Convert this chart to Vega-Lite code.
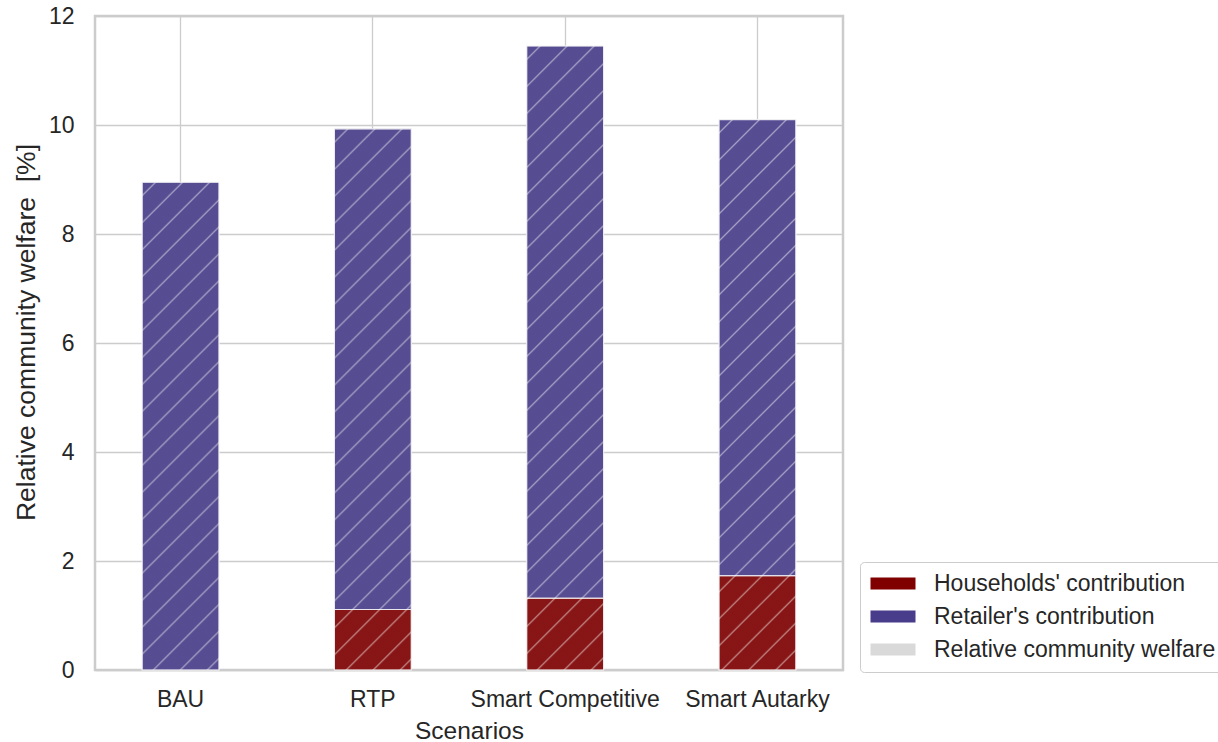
{
  "$schema": "https://vega.github.io/schema/vega-lite/v6.json",
  "autosize": {"type": "none"},
  "padding": {"left": 95, "top": 16, "right": 375, "bottom": 72},
  "width": 748,
  "height": 654,
  "background": "white",
  "config": {
    "font": "Liberation Sans",
    "view": {"stroke": "#cccccc", "strokeWidth": 2.5},
    "axis": {"gridColor": "#cccccc", "gridWidth": 1.3, "gridOpacity": 1, "domain": false, "ticks": false, "labelColor": "#262626", "titleColor": "#262626", "labelFontSize": 23, "titleFontSize": 24.5, "titleFontWeight": "normal", "labelLimit": 0},
    "legend": {"labelFontSize": 23, "labelColor": "#262626", "labelLimit": 0}
  },
  "datasets": {
    "parts": [
      {"Scenario": "RTP", "Component": "Households' contribution", "value": 1.11},
      {"Scenario": "Smart Competitive", "Component": "Households' contribution", "value": 1.32},
      {"Scenario": "Smart Autarky", "Component": "Households' contribution", "value": 1.73},
      {"Scenario": "BAU", "Component": "Retailer's contribution", "value": 8.95},
      {"Scenario": "RTP", "Component": "Retailer's contribution", "value": 8.82},
      {"Scenario": "Smart Competitive", "Component": "Retailer's contribution", "value": 10.13},
      {"Scenario": "Smart Autarky", "Component": "Retailer's contribution", "value": 8.37}
    ],
    "totals": [
      {"Scenario": "BAU", "value": 8.95},
      {"Scenario": "RTP", "value": 9.93},
      {"Scenario": "Smart Competitive", "value": 11.45},
      {"Scenario": "Smart Autarky", "value": 10.10}
    ]
  },
  "encoding": {
    "x": {"field": "Scenario", "type": "nominal", "sort": ["BAU", "RTP", "Smart Competitive", "Smart Autarky"],
      "scale": {"paddingInner": 0.6, "paddingOuter": 0.245},
      "axis": {"title": "Scenarios", "labelAngle": 0, "labelPadding": 18, "titlePadding": 8, "grid": true}},
    "y": {"field": "value", "type": "quantitative",
      "scale": {"domain": [0, 12], "nice": false, "zero": true},
      "axis": {"title": "Relative community welfare\u00a0 [%]", "titleFontSize": 26.5, "titleY": 316, "values": [0, 2, 4, 6, 8, 10, 12], "labelPadding": 21, "titlePadding": 8, "grid": true}}
  },
  "layer": [
    {
      "data": {"name": "parts"},
      "mark": {"type": "bar", "stroke": "white", "strokeWidth": 1.2, "strokeOpacity": 0.8},
      "encoding": {
        "color": {"field": "Component", "type": "nominal",
          "scale": {"domain": ["Households' contribution", "Retailer's contribution", "Relative community welfare"], "range": ["#800000", "#483d8b", "#d9d9d9"]},
          "legend": {"orient": "none", "legendX": 765, "legendY": 546, "title": null, "symbolType": "M-1.833,-1H5.667V1H-1.833Z", "symbolSize": 144, "symbolStrokeWidth": 0, "symbolOpacity": 1, "labelOffset": 41, "rowPadding": 9, "padding": 10, "strokeColor": "#cccccc", "cornerRadius": 4, "fillColor": "white"}},
        "order": {"field": "Component", "sort": "ascending"}
      }
    },
    {
      "data": {"name": "totals"},
      "transform": [{"filter": "datum.Scenario == 'BAU'"}],
      "mark": {"type": "bar", "stroke": "#eeeeee", "strokeWidth": 1, "strokeOpacity": 0.6,
        "fill": {"gradient": "linear", "x1": 0, "y1": 0, "x2": 0.2209, "y2": 1.4028, "stops": [
{"offset":0,"color":"rgba(211,211,211,0.1)"},
{"offset":0.0163,"color":"rgba(211,211,211,0.1)"},{"offset":0.0192,"color":"rgba(255,255,255,0.5)"},{"offset":0.0221,"color":"rgba(211,211,211,0.1)"},
{"offset":0.0548,"color":"rgba(211,211,211,0.1)"},{"offset":0.0577,"color":"rgba(255,255,255,0.5)"},{"offset":0.0606,"color":"rgba(211,211,211,0.1)"},
{"offset":0.0933,"color":"rgba(211,211,211,0.1)"},{"offset":0.0962,"color":"rgba(255,255,255,0.5)"},{"offset":0.0991,"color":"rgba(211,211,211,0.1)"},
{"offset":0.1317,"color":"rgba(211,211,211,0.1)"},{"offset":0.1346,"color":"rgba(255,255,255,0.5)"},{"offset":0.1375,"color":"rgba(211,211,211,0.1)"},
{"offset":0.1702,"color":"rgba(211,211,211,0.1)"},{"offset":0.1731,"color":"rgba(255,255,255,0.5)"},{"offset":0.1760,"color":"rgba(211,211,211,0.1)"},
{"offset":0.2086,"color":"rgba(211,211,211,0.1)"},{"offset":0.2115,"color":"rgba(255,255,255,0.5)"},{"offset":0.2144,"color":"rgba(211,211,211,0.1)"},
{"offset":0.2471,"color":"rgba(211,211,211,0.1)"},{"offset":0.2500,"color":"rgba(255,255,255,0.5)"},{"offset":0.2529,"color":"rgba(211,211,211,0.1)"},
{"offset":0.2856,"color":"rgba(211,211,211,0.1)"},{"offset":0.2885,"color":"rgba(255,255,255,0.5)"},{"offset":0.2914,"color":"rgba(211,211,211,0.1)"},
{"offset":0.3240,"color":"rgba(211,211,211,0.1)"},{"offset":0.3269,"color":"rgba(255,255,255,0.5)"},{"offset":0.3298,"color":"rgba(211,211,211,0.1)"},
{"offset":0.3625,"color":"rgba(211,211,211,0.1)"},{"offset":0.3654,"color":"rgba(255,255,255,0.5)"},{"offset":0.3683,"color":"rgba(211,211,211,0.1)"},
{"offset":0.4009,"color":"rgba(211,211,211,0.1)"},{"offset":0.4038,"color":"rgba(255,255,255,0.5)"},{"offset":0.4067,"color":"rgba(211,211,211,0.1)"},
{"offset":0.4394,"color":"rgba(211,211,211,0.1)"},{"offset":0.4423,"color":"rgba(255,255,255,0.5)"},{"offset":0.4452,"color":"rgba(211,211,211,0.1)"},
{"offset":0.4779,"color":"rgba(211,211,211,0.1)"},{"offset":0.4808,"color":"rgba(255,255,255,0.5)"},{"offset":0.4837,"color":"rgba(211,211,211,0.1)"},
{"offset":0.5163,"color":"rgba(211,211,211,0.1)"},{"offset":0.5192,"color":"rgba(255,255,255,0.5)"},{"offset":0.5221,"color":"rgba(211,211,211,0.1)"},
{"offset":0.5548,"color":"rgba(211,211,211,0.1)"},{"offset":0.5577,"color":"rgba(255,255,255,0.5)"},{"offset":0.5606,"color":"rgba(211,211,211,0.1)"},
{"offset":0.5933,"color":"rgba(211,211,211,0.1)"},{"offset":0.5962,"color":"rgba(255,255,255,0.5)"},{"offset":0.5991,"color":"rgba(211,211,211,0.1)"},
{"offset":0.6317,"color":"rgba(211,211,211,0.1)"},{"offset":0.6346,"color":"rgba(255,255,255,0.5)"},{"offset":0.6375,"color":"rgba(211,211,211,0.1)"},
{"offset":0.6702,"color":"rgba(211,211,211,0.1)"},{"offset":0.6731,"color":"rgba(255,255,255,0.5)"},{"offset":0.6760,"color":"rgba(211,211,211,0.1)"},
{"offset":0.7086,"color":"rgba(211,211,211,0.1)"},{"offset":0.7115,"color":"rgba(255,255,255,0.5)"},{"offset":0.7144,"color":"rgba(211,211,211,0.1)"},
{"offset":0.7471,"color":"rgba(211,211,211,0.1)"},{"offset":0.7500,"color":"rgba(255,255,255,0.5)"},{"offset":0.7529,"color":"rgba(211,211,211,0.1)"},
{"offset":0.7856,"color":"rgba(211,211,211,0.1)"},{"offset":0.7885,"color":"rgba(255,255,255,0.5)"},{"offset":0.7914,"color":"rgba(211,211,211,0.1)"},
{"offset":0.8240,"color":"rgba(211,211,211,0.1)"},{"offset":0.8269,"color":"rgba(255,255,255,0.5)"},{"offset":0.8298,"color":"rgba(211,211,211,0.1)"},
{"offset":0.8625,"color":"rgba(211,211,211,0.1)"},{"offset":0.8654,"color":"rgba(255,255,255,0.5)"},{"offset":0.8683,"color":"rgba(211,211,211,0.1)"},
{"offset":0.9009,"color":"rgba(211,211,211,0.1)"},{"offset":0.9038,"color":"rgba(255,255,255,0.5)"},{"offset":0.9067,"color":"rgba(211,211,211,0.1)"},
{"offset":0.9394,"color":"rgba(211,211,211,0.1)"},{"offset":0.9423,"color":"rgba(255,255,255,0.5)"},{"offset":0.9452,"color":"rgba(211,211,211,0.1)"},
{"offset":0.9779,"color":"rgba(211,211,211,0.1)"},{"offset":0.9808,"color":"rgba(255,255,255,0.5)"},{"offset":0.9837,"color":"rgba(211,211,211,0.1)"},
{"offset":1,"color":"rgba(211,211,211,0.1)"}
        ]}}
    },
    {
      "data": {"name": "totals"},
      "transform": [{"filter": "datum.Scenario == 'RTP'"}],
      "mark": {"type": "bar", "stroke": "#eeeeee", "strokeWidth": 1, "strokeOpacity": 0.6,
        "fill": {"gradient": "linear", "x1": 0, "y1": 0, "x2": 0.1803, "y2": 1.2703, "stops": [
{"offset":0,"color":"rgba(211,211,211,0.1)"},
{"offset":0.0163,"color":"rgba(211,211,211,0.1)"},{"offset":0.0192,"color":"rgba(255,255,255,0.5)"},{"offset":0.0221,"color":"rgba(211,211,211,0.1)"},
{"offset":0.0548,"color":"rgba(211,211,211,0.1)"},{"offset":0.0577,"color":"rgba(255,255,255,0.5)"},{"offset":0.0606,"color":"rgba(211,211,211,0.1)"},
{"offset":0.0933,"color":"rgba(211,211,211,0.1)"},{"offset":0.0962,"color":"rgba(255,255,255,0.5)"},{"offset":0.0991,"color":"rgba(211,211,211,0.1)"},
{"offset":0.1317,"color":"rgba(211,211,211,0.1)"},{"offset":0.1346,"color":"rgba(255,255,255,0.5)"},{"offset":0.1375,"color":"rgba(211,211,211,0.1)"},
{"offset":0.1702,"color":"rgba(211,211,211,0.1)"},{"offset":0.1731,"color":"rgba(255,255,255,0.5)"},{"offset":0.1760,"color":"rgba(211,211,211,0.1)"},
{"offset":0.2086,"color":"rgba(211,211,211,0.1)"},{"offset":0.2115,"color":"rgba(255,255,255,0.5)"},{"offset":0.2144,"color":"rgba(211,211,211,0.1)"},
{"offset":0.2471,"color":"rgba(211,211,211,0.1)"},{"offset":0.2500,"color":"rgba(255,255,255,0.5)"},{"offset":0.2529,"color":"rgba(211,211,211,0.1)"},
{"offset":0.2856,"color":"rgba(211,211,211,0.1)"},{"offset":0.2885,"color":"rgba(255,255,255,0.5)"},{"offset":0.2914,"color":"rgba(211,211,211,0.1)"},
{"offset":0.3240,"color":"rgba(211,211,211,0.1)"},{"offset":0.3269,"color":"rgba(255,255,255,0.5)"},{"offset":0.3298,"color":"rgba(211,211,211,0.1)"},
{"offset":0.3625,"color":"rgba(211,211,211,0.1)"},{"offset":0.3654,"color":"rgba(255,255,255,0.5)"},{"offset":0.3683,"color":"rgba(211,211,211,0.1)"},
{"offset":0.4009,"color":"rgba(211,211,211,0.1)"},{"offset":0.4038,"color":"rgba(255,255,255,0.5)"},{"offset":0.4067,"color":"rgba(211,211,211,0.1)"},
{"offset":0.4394,"color":"rgba(211,211,211,0.1)"},{"offset":0.4423,"color":"rgba(255,255,255,0.5)"},{"offset":0.4452,"color":"rgba(211,211,211,0.1)"},
{"offset":0.4779,"color":"rgba(211,211,211,0.1)"},{"offset":0.4808,"color":"rgba(255,255,255,0.5)"},{"offset":0.4837,"color":"rgba(211,211,211,0.1)"},
{"offset":0.5163,"color":"rgba(211,211,211,0.1)"},{"offset":0.5192,"color":"rgba(255,255,255,0.5)"},{"offset":0.5221,"color":"rgba(211,211,211,0.1)"},
{"offset":0.5548,"color":"rgba(211,211,211,0.1)"},{"offset":0.5577,"color":"rgba(255,255,255,0.5)"},{"offset":0.5606,"color":"rgba(211,211,211,0.1)"},
{"offset":0.5933,"color":"rgba(211,211,211,0.1)"},{"offset":0.5962,"color":"rgba(255,255,255,0.5)"},{"offset":0.5991,"color":"rgba(211,211,211,0.1)"},
{"offset":0.6317,"color":"rgba(211,211,211,0.1)"},{"offset":0.6346,"color":"rgba(255,255,255,0.5)"},{"offset":0.6375,"color":"rgba(211,211,211,0.1)"},
{"offset":0.6702,"color":"rgba(211,211,211,0.1)"},{"offset":0.6731,"color":"rgba(255,255,255,0.5)"},{"offset":0.6760,"color":"rgba(211,211,211,0.1)"},
{"offset":0.7086,"color":"rgba(211,211,211,0.1)"},{"offset":0.7115,"color":"rgba(255,255,255,0.5)"},{"offset":0.7144,"color":"rgba(211,211,211,0.1)"},
{"offset":0.7471,"color":"rgba(211,211,211,0.1)"},{"offset":0.7500,"color":"rgba(255,255,255,0.5)"},{"offset":0.7529,"color":"rgba(211,211,211,0.1)"},
{"offset":0.7856,"color":"rgba(211,211,211,0.1)"},{"offset":0.7885,"color":"rgba(255,255,255,0.5)"},{"offset":0.7914,"color":"rgba(211,211,211,0.1)"},
{"offset":0.8240,"color":"rgba(211,211,211,0.1)"},{"offset":0.8269,"color":"rgba(255,255,255,0.5)"},{"offset":0.8298,"color":"rgba(211,211,211,0.1)"},
{"offset":0.8625,"color":"rgba(211,211,211,0.1)"},{"offset":0.8654,"color":"rgba(255,255,255,0.5)"},{"offset":0.8683,"color":"rgba(211,211,211,0.1)"},
{"offset":0.9009,"color":"rgba(211,211,211,0.1)"},{"offset":0.9038,"color":"rgba(255,255,255,0.5)"},{"offset":0.9067,"color":"rgba(211,211,211,0.1)"},
{"offset":0.9394,"color":"rgba(211,211,211,0.1)"},{"offset":0.9423,"color":"rgba(255,255,255,0.5)"},{"offset":0.9452,"color":"rgba(211,211,211,0.1)"},
{"offset":0.9779,"color":"rgba(211,211,211,0.1)"},{"offset":0.9808,"color":"rgba(255,255,255,0.5)"},{"offset":0.9837,"color":"rgba(211,211,211,0.1)"},
{"offset":1,"color":"rgba(211,211,211,0.1)"}
        ]}}
    },
    {
      "data": {"name": "totals"},
      "transform": [{"filter": "datum.Scenario == 'Smart Competitive'"}],
      "mark": {"type": "bar", "stroke": "#eeeeee", "strokeWidth": 1, "strokeOpacity": 0.6,
        "fill": {"gradient": "linear", "x1": 0, "y1": 0, "x2": 0.1366, "y2": 1.1082, "stops": [
{"offset":0,"color":"rgba(211,211,211,0.1)"},
{"offset":0.0163,"color":"rgba(211,211,211,0.1)"},{"offset":0.0192,"color":"rgba(255,255,255,0.5)"},{"offset":0.0221,"color":"rgba(211,211,211,0.1)"},
{"offset":0.0548,"color":"rgba(211,211,211,0.1)"},{"offset":0.0577,"color":"rgba(255,255,255,0.5)"},{"offset":0.0606,"color":"rgba(211,211,211,0.1)"},
{"offset":0.0933,"color":"rgba(211,211,211,0.1)"},{"offset":0.0962,"color":"rgba(255,255,255,0.5)"},{"offset":0.0991,"color":"rgba(211,211,211,0.1)"},
{"offset":0.1317,"color":"rgba(211,211,211,0.1)"},{"offset":0.1346,"color":"rgba(255,255,255,0.5)"},{"offset":0.1375,"color":"rgba(211,211,211,0.1)"},
{"offset":0.1702,"color":"rgba(211,211,211,0.1)"},{"offset":0.1731,"color":"rgba(255,255,255,0.5)"},{"offset":0.1760,"color":"rgba(211,211,211,0.1)"},
{"offset":0.2086,"color":"rgba(211,211,211,0.1)"},{"offset":0.2115,"color":"rgba(255,255,255,0.5)"},{"offset":0.2144,"color":"rgba(211,211,211,0.1)"},
{"offset":0.2471,"color":"rgba(211,211,211,0.1)"},{"offset":0.2500,"color":"rgba(255,255,255,0.5)"},{"offset":0.2529,"color":"rgba(211,211,211,0.1)"},
{"offset":0.2856,"color":"rgba(211,211,211,0.1)"},{"offset":0.2885,"color":"rgba(255,255,255,0.5)"},{"offset":0.2914,"color":"rgba(211,211,211,0.1)"},
{"offset":0.3240,"color":"rgba(211,211,211,0.1)"},{"offset":0.3269,"color":"rgba(255,255,255,0.5)"},{"offset":0.3298,"color":"rgba(211,211,211,0.1)"},
{"offset":0.3625,"color":"rgba(211,211,211,0.1)"},{"offset":0.3654,"color":"rgba(255,255,255,0.5)"},{"offset":0.3683,"color":"rgba(211,211,211,0.1)"},
{"offset":0.4009,"color":"rgba(211,211,211,0.1)"},{"offset":0.4038,"color":"rgba(255,255,255,0.5)"},{"offset":0.4067,"color":"rgba(211,211,211,0.1)"},
{"offset":0.4394,"color":"rgba(211,211,211,0.1)"},{"offset":0.4423,"color":"rgba(255,255,255,0.5)"},{"offset":0.4452,"color":"rgba(211,211,211,0.1)"},
{"offset":0.4779,"color":"rgba(211,211,211,0.1)"},{"offset":0.4808,"color":"rgba(255,255,255,0.5)"},{"offset":0.4837,"color":"rgba(211,211,211,0.1)"},
{"offset":0.5163,"color":"rgba(211,211,211,0.1)"},{"offset":0.5192,"color":"rgba(255,255,255,0.5)"},{"offset":0.5221,"color":"rgba(211,211,211,0.1)"},
{"offset":0.5548,"color":"rgba(211,211,211,0.1)"},{"offset":0.5577,"color":"rgba(255,255,255,0.5)"},{"offset":0.5606,"color":"rgba(211,211,211,0.1)"},
{"offset":0.5933,"color":"rgba(211,211,211,0.1)"},{"offset":0.5962,"color":"rgba(255,255,255,0.5)"},{"offset":0.5991,"color":"rgba(211,211,211,0.1)"},
{"offset":0.6317,"color":"rgba(211,211,211,0.1)"},{"offset":0.6346,"color":"rgba(255,255,255,0.5)"},{"offset":0.6375,"color":"rgba(211,211,211,0.1)"},
{"offset":0.6702,"color":"rgba(211,211,211,0.1)"},{"offset":0.6731,"color":"rgba(255,255,255,0.5)"},{"offset":0.6760,"color":"rgba(211,211,211,0.1)"},
{"offset":0.7086,"color":"rgba(211,211,211,0.1)"},{"offset":0.7115,"color":"rgba(255,255,255,0.5)"},{"offset":0.7144,"color":"rgba(211,211,211,0.1)"},
{"offset":0.7471,"color":"rgba(211,211,211,0.1)"},{"offset":0.7500,"color":"rgba(255,255,255,0.5)"},{"offset":0.7529,"color":"rgba(211,211,211,0.1)"},
{"offset":0.7856,"color":"rgba(211,211,211,0.1)"},{"offset":0.7885,"color":"rgba(255,255,255,0.5)"},{"offset":0.7914,"color":"rgba(211,211,211,0.1)"},
{"offset":0.8240,"color":"rgba(211,211,211,0.1)"},{"offset":0.8269,"color":"rgba(255,255,255,0.5)"},{"offset":0.8298,"color":"rgba(211,211,211,0.1)"},
{"offset":0.8625,"color":"rgba(211,211,211,0.1)"},{"offset":0.8654,"color":"rgba(255,255,255,0.5)"},{"offset":0.8683,"color":"rgba(211,211,211,0.1)"},
{"offset":0.9009,"color":"rgba(211,211,211,0.1)"},{"offset":0.9038,"color":"rgba(255,255,255,0.5)"},{"offset":0.9067,"color":"rgba(211,211,211,0.1)"},
{"offset":0.9394,"color":"rgba(211,211,211,0.1)"},{"offset":0.9423,"color":"rgba(255,255,255,0.5)"},{"offset":0.9452,"color":"rgba(211,211,211,0.1)"},
{"offset":0.9779,"color":"rgba(211,211,211,0.1)"},{"offset":0.9808,"color":"rgba(255,255,255,0.5)"},{"offset":0.9837,"color":"rgba(211,211,211,0.1)"},
{"offset":1,"color":"rgba(211,211,211,0.1)"}
        ]}}
    },
    {
      "data": {"name": "totals"},
      "transform": [{"filter": "datum.Scenario == 'Smart Autarky'"}],
      "mark": {"type": "bar", "stroke": "#eeeeee", "strokeWidth": 1, "strokeOpacity": 0.6,
        "fill": {"gradient": "linear", "x1": 0, "y1": 0, "x2": 0.1746, "y2": 1.2504, "stops": [
{"offset":0,"color":"rgba(211,211,211,0.1)"},
{"offset":0.0163,"color":"rgba(211,211,211,0.1)"},{"offset":0.0192,"color":"rgba(255,255,255,0.5)"},{"offset":0.0221,"color":"rgba(211,211,211,0.1)"},
{"offset":0.0548,"color":"rgba(211,211,211,0.1)"},{"offset":0.0577,"color":"rgba(255,255,255,0.5)"},{"offset":0.0606,"color":"rgba(211,211,211,0.1)"},
{"offset":0.0933,"color":"rgba(211,211,211,0.1)"},{"offset":0.0962,"color":"rgba(255,255,255,0.5)"},{"offset":0.0991,"color":"rgba(211,211,211,0.1)"},
{"offset":0.1317,"color":"rgba(211,211,211,0.1)"},{"offset":0.1346,"color":"rgba(255,255,255,0.5)"},{"offset":0.1375,"color":"rgba(211,211,211,0.1)"},
{"offset":0.1702,"color":"rgba(211,211,211,0.1)"},{"offset":0.1731,"color":"rgba(255,255,255,0.5)"},{"offset":0.1760,"color":"rgba(211,211,211,0.1)"},
{"offset":0.2086,"color":"rgba(211,211,211,0.1)"},{"offset":0.2115,"color":"rgba(255,255,255,0.5)"},{"offset":0.2144,"color":"rgba(211,211,211,0.1)"},
{"offset":0.2471,"color":"rgba(211,211,211,0.1)"},{"offset":0.2500,"color":"rgba(255,255,255,0.5)"},{"offset":0.2529,"color":"rgba(211,211,211,0.1)"},
{"offset":0.2856,"color":"rgba(211,211,211,0.1)"},{"offset":0.2885,"color":"rgba(255,255,255,0.5)"},{"offset":0.2914,"color":"rgba(211,211,211,0.1)"},
{"offset":0.3240,"color":"rgba(211,211,211,0.1)"},{"offset":0.3269,"color":"rgba(255,255,255,0.5)"},{"offset":0.3298,"color":"rgba(211,211,211,0.1)"},
{"offset":0.3625,"color":"rgba(211,211,211,0.1)"},{"offset":0.3654,"color":"rgba(255,255,255,0.5)"},{"offset":0.3683,"color":"rgba(211,211,211,0.1)"},
{"offset":0.4009,"color":"rgba(211,211,211,0.1)"},{"offset":0.4038,"color":"rgba(255,255,255,0.5)"},{"offset":0.4067,"color":"rgba(211,211,211,0.1)"},
{"offset":0.4394,"color":"rgba(211,211,211,0.1)"},{"offset":0.4423,"color":"rgba(255,255,255,0.5)"},{"offset":0.4452,"color":"rgba(211,211,211,0.1)"},
{"offset":0.4779,"color":"rgba(211,211,211,0.1)"},{"offset":0.4808,"color":"rgba(255,255,255,0.5)"},{"offset":0.4837,"color":"rgba(211,211,211,0.1)"},
{"offset":0.5163,"color":"rgba(211,211,211,0.1)"},{"offset":0.5192,"color":"rgba(255,255,255,0.5)"},{"offset":0.5221,"color":"rgba(211,211,211,0.1)"},
{"offset":0.5548,"color":"rgba(211,211,211,0.1)"},{"offset":0.5577,"color":"rgba(255,255,255,0.5)"},{"offset":0.5606,"color":"rgba(211,211,211,0.1)"},
{"offset":0.5933,"color":"rgba(211,211,211,0.1)"},{"offset":0.5962,"color":"rgba(255,255,255,0.5)"},{"offset":0.5991,"color":"rgba(211,211,211,0.1)"},
{"offset":0.6317,"color":"rgba(211,211,211,0.1)"},{"offset":0.6346,"color":"rgba(255,255,255,0.5)"},{"offset":0.6375,"color":"rgba(211,211,211,0.1)"},
{"offset":0.6702,"color":"rgba(211,211,211,0.1)"},{"offset":0.6731,"color":"rgba(255,255,255,0.5)"},{"offset":0.6760,"color":"rgba(211,211,211,0.1)"},
{"offset":0.7086,"color":"rgba(211,211,211,0.1)"},{"offset":0.7115,"color":"rgba(255,255,255,0.5)"},{"offset":0.7144,"color":"rgba(211,211,211,0.1)"},
{"offset":0.7471,"color":"rgba(211,211,211,0.1)"},{"offset":0.7500,"color":"rgba(255,255,255,0.5)"},{"offset":0.7529,"color":"rgba(211,211,211,0.1)"},
{"offset":0.7856,"color":"rgba(211,211,211,0.1)"},{"offset":0.7885,"color":"rgba(255,255,255,0.5)"},{"offset":0.7914,"color":"rgba(211,211,211,0.1)"},
{"offset":0.8240,"color":"rgba(211,211,211,0.1)"},{"offset":0.8269,"color":"rgba(255,255,255,0.5)"},{"offset":0.8298,"color":"rgba(211,211,211,0.1)"},
{"offset":0.8625,"color":"rgba(211,211,211,0.1)"},{"offset":0.8654,"color":"rgba(255,255,255,0.5)"},{"offset":0.8683,"color":"rgba(211,211,211,0.1)"},
{"offset":0.9009,"color":"rgba(211,211,211,0.1)"},{"offset":0.9038,"color":"rgba(255,255,255,0.5)"},{"offset":0.9067,"color":"rgba(211,211,211,0.1)"},
{"offset":0.9394,"color":"rgba(211,211,211,0.1)"},{"offset":0.9423,"color":"rgba(255,255,255,0.5)"},{"offset":0.9452,"color":"rgba(211,211,211,0.1)"},
{"offset":0.9779,"color":"rgba(211,211,211,0.1)"},{"offset":0.9808,"color":"rgba(255,255,255,0.5)"},{"offset":0.9837,"color":"rgba(211,211,211,0.1)"},
{"offset":1,"color":"rgba(211,211,211,0.1)"}
        ]}}
    }
  ]
}
